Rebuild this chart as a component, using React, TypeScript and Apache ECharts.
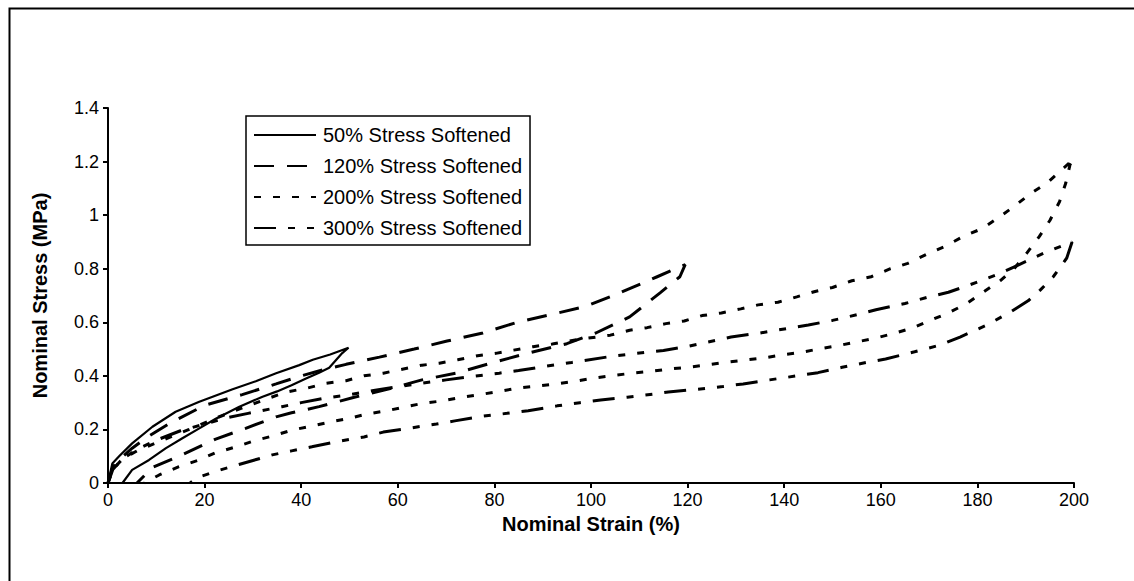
import React, { useEffect, useRef } from "react";
import * as echarts from "echarts";

// Nominal strain (%) / nominal stress (MPa) pairs, loading branch then unloading branch
const loading50: [number, number][] = [
  [0, 0], [0.9, 0.073], [2.3, 0.1], [5, 0.148], [9.2, 0.21], [14, 0.266], [18.9, 0.303],
  [25.8, 0.35], [30.6, 0.38], [34.8, 0.41], [39.6, 0.44], [42.4, 0.46], [46, 0.48], [49.8, 0.505],
];
const unloading50: [number, number][] = [
  [48.5, 0.485], [45.8, 0.43], [43.7, 0.412], [41, 0.39], [38, 0.365], [35, 0.342], [32, 0.322],
  [27.2, 0.285], [22.3, 0.24], [18.9, 0.204], [15.4, 0.167], [12, 0.13], [8.5, 0.086], [5, 0.049], [3, 0],
];

const loading120: [number, number][] = [
  [0, 0], [1, 0.06], [2.5, 0.09], [5, 0.13], [8, 0.17], [13, 0.225], [20, 0.29], [27.8, 0.33],
  [34.8, 0.37], [40, 0.4], [44, 0.42], [49.3, 0.443], [56.2, 0.47], [63.4, 0.5], [70.2, 0.53],
  [77.6, 0.56], [84.7, 0.6], [92, 0.63], [99, 0.66], [106, 0.71], [113.7, 0.77], [119.5, 0.815],
];
const unloading120: [number, number][] = [
  [118.4, 0.77], [114.3, 0.71], [108, 0.62], [101, 0.56], [95, 0.52], [87, 0.485], [79.4, 0.448],
  [72, 0.41], [65, 0.385], [59, 0.355], [51, 0.32], [43.7, 0.285], [38, 0.262], [34.8, 0.247],
  [28.5, 0.204], [22.3, 0.164], [15.7, 0.108], [9.2, 0.058], [6, 0],
];

const loading200: [number, number][] = [
  [0, 0], [1, 0.05], [3, 0.09], [6, 0.12], [10.6, 0.155], [16.8, 0.2], [22, 0.24], [28.5, 0.285],
  [33, 0.315], [37, 0.34], [41.4, 0.355], [45, 0.372], [49.3, 0.382], [53, 0.4], [57, 0.41],
  [65, 0.44], [68.6, 0.447], [72.4, 0.46], [76.5, 0.475], [80.3, 0.484], [84, 0.496], [88, 0.509],
  [92, 0.519], [97, 0.535], [104, 0.552], [108, 0.57], [111.6, 0.58], [115.5, 0.595], [119.3, 0.605],
  [123, 0.625], [127, 0.635], [131, 0.65], [134.6, 0.665], [138.7, 0.675], [142.6, 0.695],
  [146.4, 0.715], [150, 0.73], [154, 0.755], [158, 0.77], [162, 0.8], [165.6, 0.82], [169.6, 0.855],
  [173.5, 0.885], [177, 0.92], [181, 0.95], [184.3, 0.99], [187.4, 1.03], [191, 1.08],
  [194.4, 1.12], [197.5, 1.17], [200, 1.21],
];
const unloading200: [number, number][] = [
  [199.2, 1.19], [198.3, 1.12], [197, 1.05], [195, 0.98], [192.8, 0.92], [190.3, 0.86],
  [187.6, 0.8], [184.7, 0.755], [181, 0.71], [177.8, 0.67], [174, 0.635], [170.6, 0.61],
  [166.7, 0.58], [163, 0.56], [158.8, 0.54], [155, 0.527], [151, 0.512], [147, 0.5], [143.3, 0.487],
  [139.5, 0.478], [135.4, 0.466], [131.5, 0.458], [127.7, 0.45], [123.8, 0.44], [120, 0.432],
  [116, 0.425], [112, 0.416], [108.5, 0.41], [104, 0.4], [100, 0.39], [96.7, 0.38], [92.8, 0.37],
  [88.8, 0.362], [85, 0.355], [81, 0.342], [77, 0.33], [73.3, 0.32], [69.4, 0.307], [65.4, 0.298],
  [61.7, 0.285], [57.8, 0.27], [53.8, 0.258], [50, 0.242], [46, 0.228], [42, 0.212], [38.2, 0.198],
  [34, 0.175], [30.3, 0.158], [26.5, 0.135], [22.3, 0.113], [18.5, 0.084], [14.7, 0.061],
  [10.6, 0.03], [7.5, 0],
];

const loading300: [number, number][] = [
  [0, 0], [1, 0.05], [3, 0.09], [6, 0.125], [10, 0.16], [15, 0.195], [20, 0.22], [25, 0.245],
  [29, 0.26], [36, 0.285], [40, 0.3], [45, 0.317], [50, 0.33], [55, 0.345], [60, 0.36], [66, 0.375],
  [70, 0.385], [75, 0.397], [81, 0.41], [85, 0.42], [90, 0.434], [96, 0.45], [105, 0.475],
  [115, 0.495], [120, 0.51], [129, 0.545], [135, 0.56], [145, 0.59], [150, 0.607], [155, 0.628],
  [159, 0.647], [165, 0.67], [170, 0.695], [174, 0.712], [180, 0.75], [185, 0.785], [188, 0.81],
  [194, 0.86], [199.6, 0.9],
];
const unloading300: [number, number][] = [
  [198.5, 0.84], [195.7, 0.77], [193, 0.72], [190.5, 0.68], [187, 0.64], [182, 0.59],
  [176.4, 0.545], [172.3, 0.515], [167, 0.49], [161, 0.463], [157, 0.45], [152, 0.432], [147, 0.412],
  [142.6, 0.4], [137, 0.385], [131.5, 0.37], [127.3, 0.36], [122, 0.35], [116, 0.34], [113, 0.332],
  [107.5, 0.32], [102, 0.31], [97.7, 0.3], [93, 0.288], [87, 0.27], [82.6, 0.26], [77, 0.248],
  [71.8, 0.232], [68, 0.22], [62.5, 0.205], [57, 0.19], [53, 0.172], [47.6, 0.155], [42.2, 0.135],
  [38, 0.12], [34, 0.105], [27.3, 0.07], [22.5, 0.045], [18.5, 0.02], [17, 0],
];

const seriesNames = [
  "50% Stress Softened",
  "120% Stress Softened",
  "200% Stress Softened",
  "300% Stress Softened",
];
const xTicks = { min: 0, max: 200, interval: 20 };
const yTicks = { min: 0, max: 1.4, interval: 0.2 };

const FONT = "'Liberation Sans', Arial, Helvetica, sans-serif";

export default function App() {
  const ref = useRef<HTMLDivElement>(null);

  useEffect(() => {
    if (!ref.current) return;
    const chart = echarts.init(ref.current, undefined, { renderer: "svg" });

    const loops = [
      { data: [...loading50, ...unloading50], type: "solid" as any, width: 2.2 },
      { data: [...loading120, ...unloading120], type: [20, 13], width: 3 },
      { data: [...loading200, ...unloading200], type: [7, 12], width: 3 },
      { data: [...loading300, ...unloading300], type: [22, 12, 7, 12, 7, 12], width: 3 },
    ];

    chart.setOption({
      animation: false,
      backgroundColor: "#ffffff",
      textStyle: { fontFamily: FONT, color: "#000" },
      graphic: [
        {
          type: "rect",
          left: 7,
          top: 6,
          shape: { width: 1300, height: 800 },
          style: { fill: "none", stroke: "#000", lineWidth: 2 },
          silent: true,
        },
      ],
      grid: { left: 108, right: 60, top: 108, bottom: 98, containLabel: false },
      legend: {
        orient: "vertical",
        left: 246,
        top: 116,
        data: seriesNames,
        itemWidth: 62,
        itemHeight: 8,
        itemGap: 11,
        padding: [9, 8, 7, 7],
        backgroundColor: "#fff",
        borderColor: "#000",
        borderWidth: 1.5,
        borderRadius: 0,
        itemStyle: { opacity: 0, borderWidth: 0 },
        textStyle: { fontFamily: FONT, fontSize: 20, color: "#000", padding: [0, 0, 0, 2] },
      },
      xAxis: {
        type: "value",
        ...xTicks,
        name: "Nominal Strain (%)",
        nameLocation: "middle",
        nameGap: 23,
        nameTextStyle: { fontFamily: FONT, fontSize: 20, fontWeight: "bold", color: "#000" },
        axisLine: { onZero: false, lineStyle: { color: "#000", width: 2 } },
        axisTick: { show: true, inside: false, length: 5, lineStyle: { color: "#000", width: 2 } },
        axisLabel: { fontFamily: FONT, fontSize: 18, color: "#000", margin: 8 },
        splitLine: { show: false },
      },
      yAxis: {
        type: "value",
        ...yTicks,
        name: "Nominal Stress (MPa)",
        nameLocation: "middle",
        nameGap: 58,
        nameTextStyle: { fontFamily: FONT, fontSize: 20, fontWeight: "bold", color: "#000" },
        axisLine: { show: true, lineStyle: { color: "#000", width: 2 } },
        axisTick: { show: true, inside: false, length: 5, lineStyle: { color: "#000", width: 2 } },
        axisLabel: {
          fontFamily: FONT,
          fontSize: 18,
          color: "#000",
          margin: 9,
          formatter: (v: number) => String(Number(v.toFixed(1))),
        },
        splitLine: { show: false },
      },
      series: loops.map((l, i) => ({
        name: seriesNames[i],
        type: "line",
        data: l.data,
        showSymbol: false,
        symbol: "none",
        smooth: false,
        clip: true,
        lineStyle: { color: "#000", width: l.width, type: l.type },
        itemStyle: { color: "#000" },
      })),
    });

    return () => chart.dispose();
  }, []);

  return <div ref={ref} style={{ width: 1134, height: 581, position: "absolute", left: 0, top: 0 }} />;
}
